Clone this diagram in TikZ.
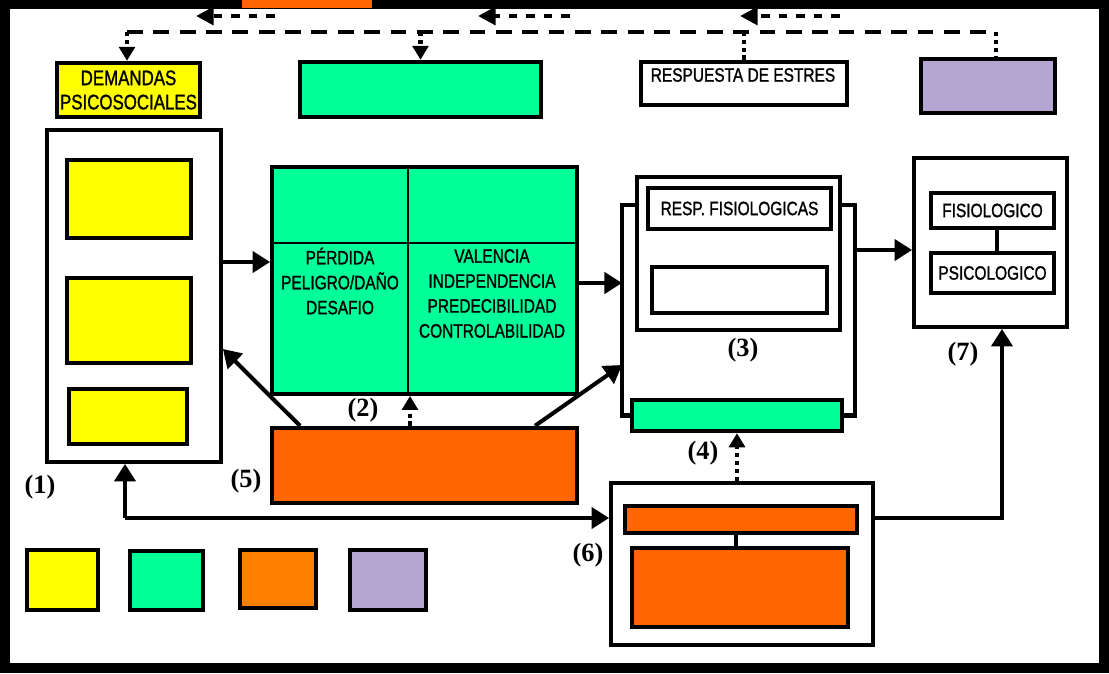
\documentclass[tikz,border=0pt]{standalone}
\usepackage{fontspec}
\setmainfont{Liberation Serif}
\newfontfamily\handfont[FakeStretch=0.8,FakeBold=1.2]{Liberation Sans}
\usetikzlibrary{arrows.meta,positioning,calc}
\definecolor{boxyellow}{RGB}{255,255,0}
\definecolor{boxgreen}{RGB}{0,255,153}
\definecolor{boxorange}{RGB}{255,102,0}
\definecolor{keyorange}{RGB}{255,128,0}
\definecolor{boxlilac}{RGB}{180,165,210}

\tikzset{
  box/.style={draw=black, line width=2.5pt, inner sep=0pt},
  frame/.style={draw=black, fill=white, line width=2.2pt, inner sep=0pt},
  txt/.style={font=\handfont\fontsize{11}{14.2}\selectfont, align=center, inner sep=0pt},
  num/.style={font=\bfseries\fontsize{15}{17}\selectfont, inner sep=0pt},
  arr/.style={-{Triangle[length=10pt,width=12pt]}, line width=2.3pt},
  plain/.style={line width=2.3pt},
  dashline/.style={line width=2.8pt, dash pattern=on 9pt off 6pt},
  dotline/.style={line width=2.6pt, dash pattern=on 2.5pt off 2pt},
  dotarr/.style={-{Triangle[length=8pt,width=9pt]}, line width=2.6pt, dash pattern=on 2.5pt off 2pt},
  backarr/.style={-{Triangle[length=10pt,width=10pt]}, line width=2.8pt, dash pattern=on 5pt off 5pt}
}

\begin{document}
\begin{tikzpicture}[x=0.02cm, y=-0.02cm]

% Frame
\fill[black] (0,0) rectangle (1109,673);
\fill[white] (10,9) rectangle (1099,663);
\fill[boxorange] (242,0) rectangle (372,8);
\useasboundingbox (0,0) rectangle (1109,673);

% Top row
\node[box, fill=boxyellow, minimum width=2.86cm, minimum height=1.08cm,
      txt, font=\handfont\fontsize{12}{13.8}\selectfont] (dem) at (128.5,90)
  {DEMANDAS\\PSICOSOCIALES};
\node[box, fill=boxgreen, minimum width=4.82cm, minimum height=1.1cm] (gtop) at (420.5,89.5) {};
\node[box, fill=white, minimum width=4.12cm, minimum height=0.86cm] (resp) at (744,83.5) {};
\node[txt] (resplbl) at (743,75) {RESPUESTA DE ESTRES};
\node[box, fill=boxlilac, minimum width=2.68cm, minimum height=1.08cm] (purp) at (988,86) {};

% Top feedback lines
\coordinate (tl) at (127,32);
\coordinate (tr) at (996,32);
\draw[dashline] (tl) -- (tr);
\draw[dotarr] (tl) -- (dem.north -| tl);
\draw[dotarr] (gtop.north |- tl) -- (gtop.north);
\draw[dotline] (resp.north) -- (resp.north |- tl);
\draw[dotline] (tr) -- (purp.north -| tr);

\coordinate (f1s) at (275,16);
\coordinate (f1e) at (196,16);
\coordinate (f2s) at (570,16);
\coordinate (f2e) at (478,16);
\coordinate (f3s) at (840,16);
\coordinate (f3e) at (740,16);
\draw[backarr] (f1s) -- (f1e);
\draw[backarr] (f2s) -- (f2e);
\draw[backarr] (f3s) -- (f3e);

% (1) demands
\node[frame, minimum width=3.48cm, minimum height=6.64cm] (b1) at (134,296) {};
\node[box, fill=boxyellow, minimum width=2.48cm, minimum height=1.56cm] (y1a) at (129,199) {};
\node[box, fill=boxyellow, minimum width=2.48cm, minimum height=1.7cm] (y1b) at (129,320.5) {};
\node[box, fill=boxyellow, minimum width=2.36cm, minimum height=1.1cm] (y1c) at (128,416.5) {};
\node[num] (n1) at (40,487) {(1)};

% (2) appraisal
\node[box, fill=boxgreen, line width=2.2pt, minimum width=6.1cm, minimum height=4.54cm] (apr) at (424.5,280.5) {};
\draw[line width=0.6pt] (apr.north -| 408,0) -- (apr.south -| 408,0);
\draw[line width=0.6pt] (apr.west |- 0,243) -- (apr.east |- 0,243);
\node[txt] (tipos) at (340,281) {PÉRDIDA\\PELIGRO/DAÑO\\DESAFIO};
\node[txt] (dims) at (492,293.5) {VALENCIA\\INDEPENDENCIA\\PREDECIBILIDAD\\CONTROLABILIDAD};
\node[num] (n2) at (363,410) {(2)};

% (5) resources
\node[box, fill=boxorange, minimum width=6.1cm, minimum height=1.5cm] (res5) at (424.5,465.5) {};
\node[num] (n5) at (246,481) {(5)};

% (3) stress response
\node[frame, minimum width=4.06cm, minimum height=3.06cm] (b3) at (738.5,253.5) {};
\node[box, fill=white, minimum width=3.66cm, minimum height=0.82cm, txt] (fis) at (739.5,208.5) {RESP. FISIOLOGICAS};
\node[box, fill=white, minimum width=3.5cm, minimum height=0.92cm] (emp) at (739.5,290) {};
\node[box, fill=boxgreen, minimum width=4.2cm, minimum height=0.62cm] (g4) at (737,415.5) {};
\coordinate (brL) at (622,300);
\coordinate (brR) at (855,300);
\draw[plain] (b3.west |- 0,205) -| (brL) |- (g4.west);
\draw[plain] (b3.east |- 0,205) -| (brR) |- (g4.east);
\node[num] (n3) at (743,350) {(3)};
\node[num] (n4) at (703,453) {(4)};

% (7) outcomes
\node[frame, minimum width=3.06cm, minimum height=3.38cm] (b7) at (990.5,242.5) {};
\node[box, fill=white, minimum width=2.46cm, minimum height=0.7cm, txt] (fisio) at (992.5,210.5) {FISIOLOGICO};
\node[box, fill=white, minimum width=2.46cm, minimum height=0.8cm, txt] (psico) at (992.5,273) {PSICOLOGICO};
\draw[plain] (fisio.south -| 997,0) -- (psico.north -| 997,0);
\node[num] (n7) at (963,354) {(7)};

% (6) moderators
\node[frame, minimum width=5.24cm, minimum height=3.24cm] (b6) at (742,564) {};
\node[box, fill=boxorange, minimum width=4.64cm, minimum height=0.54cm] (o6a) at (741,519.5) {};
\node[box, fill=boxorange, minimum width=4.32cm, minimum height=1.58cm] (o6b) at (740,587.5) {};
\draw[plain] (o6a.south -| 736,0) -- (o6b.north -| 736,0);
\node[num] (n6) at (588,555) {(6)};

% Legend
\node[box, fill=boxyellow, minimum width=1.42cm, minimum height=1.2cm] (ky) at (62.5,580) {};
\node[box, fill=boxgreen, minimum width=1.46cm, minimum height=1.18cm] (kg) at (166.5,580.5) {};
\node[box, fill=keyorange, minimum width=1.52cm, minimum height=1.16cm] (ko) at (278,579) {};
\node[box, fill=boxlilac, minimum width=1.52cm, minimum height=1.2cm] (kp) at (388,580) {};

% Arrows
\draw[arr] (b1.east |- 0,262) -- (apr.west |- 0,262);
\draw[arr] (apr.east |- 0,283) -- (brL |- 0,283);
\draw[arr] (res5.north -| 535,0) -- (brL |- 0,365);
\draw[arr] (res5.north -| 300,0) -- (b1.east |- 0,349);
\draw[dotarr] (res5.north -| 410,0) -- (apr.south -| 410,0);
\draw[arr] (brR |- 0,250) -- (b7.west |- 0,250);
\draw[dotarr] (b6.north -| 737,0) -- (g4.south -| 737,0);
\draw[arr] (b6.east |- 0,518) -| (b7.south -| 1002,0);
\coordinate (jn) at (125,518);
\draw[arr] (jn) -- (b6.west |- jn);
\draw[arr] (jn) -- (b1.south -| jn);

\end{tikzpicture}
\end{document}
